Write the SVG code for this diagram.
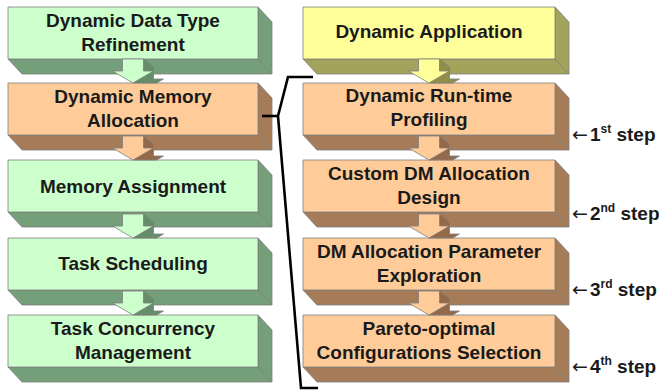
<svg xmlns="http://www.w3.org/2000/svg" xmlns:xlink="http://www.w3.org/1999/xlink" width="662" height="391" viewBox="0 0 662 391">
<style>
  .lbl{font-family:"Liberation Sans",Arial,sans-serif;font-weight:bold;font-size:19px;fill:#1a1a1a;text-anchor:middle}
  .step{font-family:"Liberation Sans",Arial,sans-serif;font-weight:bold;font-size:19px;fill:#1a1a1a}
  .arw{font-family:"DejaVu Sans",sans-serif;font-weight:normal;font-size:19px}
  .sup{font-size:12px}
  .edge{stroke:#7d7d7d;stroke-width:0.8;stroke-linejoin:round}
  .gf{fill:#ccffcc}.gd{fill:#759f78}.gs{fill:#658e68}
  .of{fill:#ffcc99}.od{fill:#a67c58}.os{fill:#93694a}
  .yf{fill:#ffff99}.yd{fill:#a3a35b}.ys{fill:#8f8f4a}
  .br{fill:none;stroke:#000;stroke-width:2.6;stroke-linejoin:miter}
</style>
<defs>
  <polygon id="arF" class="edge" points="-10.5,0 10.5,0 10.5,12 20.5,12 0,24 -20.5,12 -10.5,12"/>
  <polygon id="arS" class="edge" points="10.5,0 20.5,8 20.5,20 30.5,20 23.7,24 0,24 10.5,12"/>
</defs>
<rect width="662" height="391" fill="#ffffff"/>

<g id="n-refine">
  <polygon class="gd edge" points="8,59 258,59 272,74 22,74"/>
  <polygon class="gd edge" points="258,7 272,22 272,74 258,59"/>
  <rect class="gf edge" x="8" y="7" width="250" height="52"/>
  <text class="lbl" x="133" y="27">Dynamic Data Type</text>
  <text class="lbl" x="133" y="51">Refinement</text>
</g>
<g id="n-dma">
  <polygon class="od edge" points="8,135 258,135 272,150 22,150"/>
  <polygon class="od edge" points="258,83 272,98 272,150 258,135"/>
  <rect class="of edge" x="8" y="83" width="250" height="52"/>
  <text class="lbl" x="133" y="103">Dynamic Memory</text>
  <text class="lbl" x="133" y="127">Allocation</text>
</g>
<g id="n-memassign">
  <polygon class="gd edge" points="8,212 258,212 272,227 22,227"/>
  <polygon class="gd edge" points="258,160 272,175 272,227 258,212"/>
  <rect class="gf edge" x="8" y="160" width="250" height="52"/>
  <text class="lbl" x="133" y="193">Memory Assignment</text>
</g>
<g id="n-sched">
  <polygon class="gd edge" points="8,290 258,290 272,305 22,305"/>
  <polygon class="gd edge" points="258,238 272,253 272,305 258,290"/>
  <rect class="gf edge" x="8" y="238" width="250" height="52"/>
  <text class="lbl" x="133" y="270">Task Scheduling</text>
</g>
<g id="n-concur">
  <polygon class="gd edge" points="8,367 258,367 272,382 22,382"/>
  <polygon class="gd edge" points="258,315 272,330 272,382 258,367"/>
  <rect class="gf edge" x="8" y="315" width="250" height="52"/>
  <text class="lbl" x="133" y="335">Task Concurrency</text>
  <text class="lbl" x="133" y="359">Management</text>
</g>

<g id="n-app">
  <polygon class="yd edge" points="303,59 555,59 569,74 317,74"/>
  <polygon class="yd edge" points="555,7 569,22 569,74 555,59"/>
  <rect class="yf edge" x="303" y="7" width="252" height="52"/>
  <text class="lbl" x="429" y="38">Dynamic Application</text>
</g>
<g id="n-profile">
  <polygon class="od edge" points="303,135 555,135 569,150 317,150"/>
  <polygon class="od edge" points="555,83 569,98 569,150 555,135"/>
  <rect class="of edge" x="303" y="83" width="252" height="52"/>
  <text class="lbl" x="429" y="102">Dynamic Run-time</text>
  <text class="lbl" x="429" y="126">Profiling</text>
</g>
<g id="n-custom">
  <polygon class="od edge" points="303,212 555,212 569,227 317,227"/>
  <polygon class="od edge" points="555,160 569,175 569,227 555,212"/>
  <rect class="of edge" x="303" y="160" width="252" height="52"/>
  <text class="lbl" x="429" y="180">Custom DM Allocation</text>
  <text class="lbl" x="429" y="204">Design</text>
</g>
<g id="n-param">
  <polygon class="od edge" points="303,290 555,290 569,305 317,305"/>
  <polygon class="od edge" points="555,238 569,253 569,305 555,290"/>
  <rect class="of edge" x="303" y="238" width="252" height="52"/>
  <text class="lbl" x="429" y="258">DM Allocation Parameter</text>
  <text class="lbl" x="429" y="282">Exploration</text>
</g>
<g id="n-pareto">
  <polygon class="od edge" points="303,367 555,367 569,382 317,382"/>
  <polygon class="od edge" points="555,315 569,330 569,382 555,367"/>
  <rect class="of edge" x="303" y="315" width="252" height="52"/>
  <text class="lbl" x="429" y="335">Pareto-optimal</text>
  <text class="lbl" x="429" y="359">Configurations Selection</text>
</g>

<g id="connectors">
  <g transform="translate(133,59)"><use xlink:href="#arS" class="gs"/><use xlink:href="#arF" class="gf"/></g>
  <g transform="translate(133,136)"><use xlink:href="#arS" class="os"/><use xlink:href="#arF" class="of"/></g>
  <g transform="translate(133,214)"><use xlink:href="#arS" class="gs"/><use xlink:href="#arF" class="gf"/></g>
  <g transform="translate(133,291)"><use xlink:href="#arS" class="gs"/><use xlink:href="#arF" class="gf"/></g>
  <g transform="translate(429,59)"><use xlink:href="#arS" class="ys"/><use xlink:href="#arF" class="yf"/></g>
  <g transform="translate(429,136)"><use xlink:href="#arS" class="os"/><use xlink:href="#arF" class="of"/></g>
  <g transform="translate(429,214)"><use xlink:href="#arS" class="os"/><use xlink:href="#arF" class="of"/></g>
  <g transform="translate(429,291)"><use xlink:href="#arS" class="os"/><use xlink:href="#arF" class="of"/></g>
  <path class="br" d="M313,77 L288,77 L278,116 L301,388 L318,388"/>
  <path class="br" d="M262,116 L278,116"/>
</g>

<g id="steps">
  <text class="step" x="572" y="141"><tspan class="arw">←</tspan><tspan dx="2">1</tspan><tspan class="sup" dy="-8">st</tspan><tspan dy="8"> step</tspan></text>
  <text class="step" x="572" y="220"><tspan class="arw">←</tspan><tspan dx="2">2</tspan><tspan class="sup" dy="-8">nd</tspan><tspan dy="8"> step</tspan></text>
  <text class="step" x="572" y="296"><tspan class="arw">←</tspan><tspan dx="2">3</tspan><tspan class="sup" dy="-8">rd</tspan><tspan dy="8"> step</tspan></text>
  <text class="step" x="572" y="373"><tspan class="arw">←</tspan><tspan dx="2">4</tspan><tspan class="sup" dy="-8">th</tspan><tspan dy="8"> step</tspan></text>
</g>
</svg>
